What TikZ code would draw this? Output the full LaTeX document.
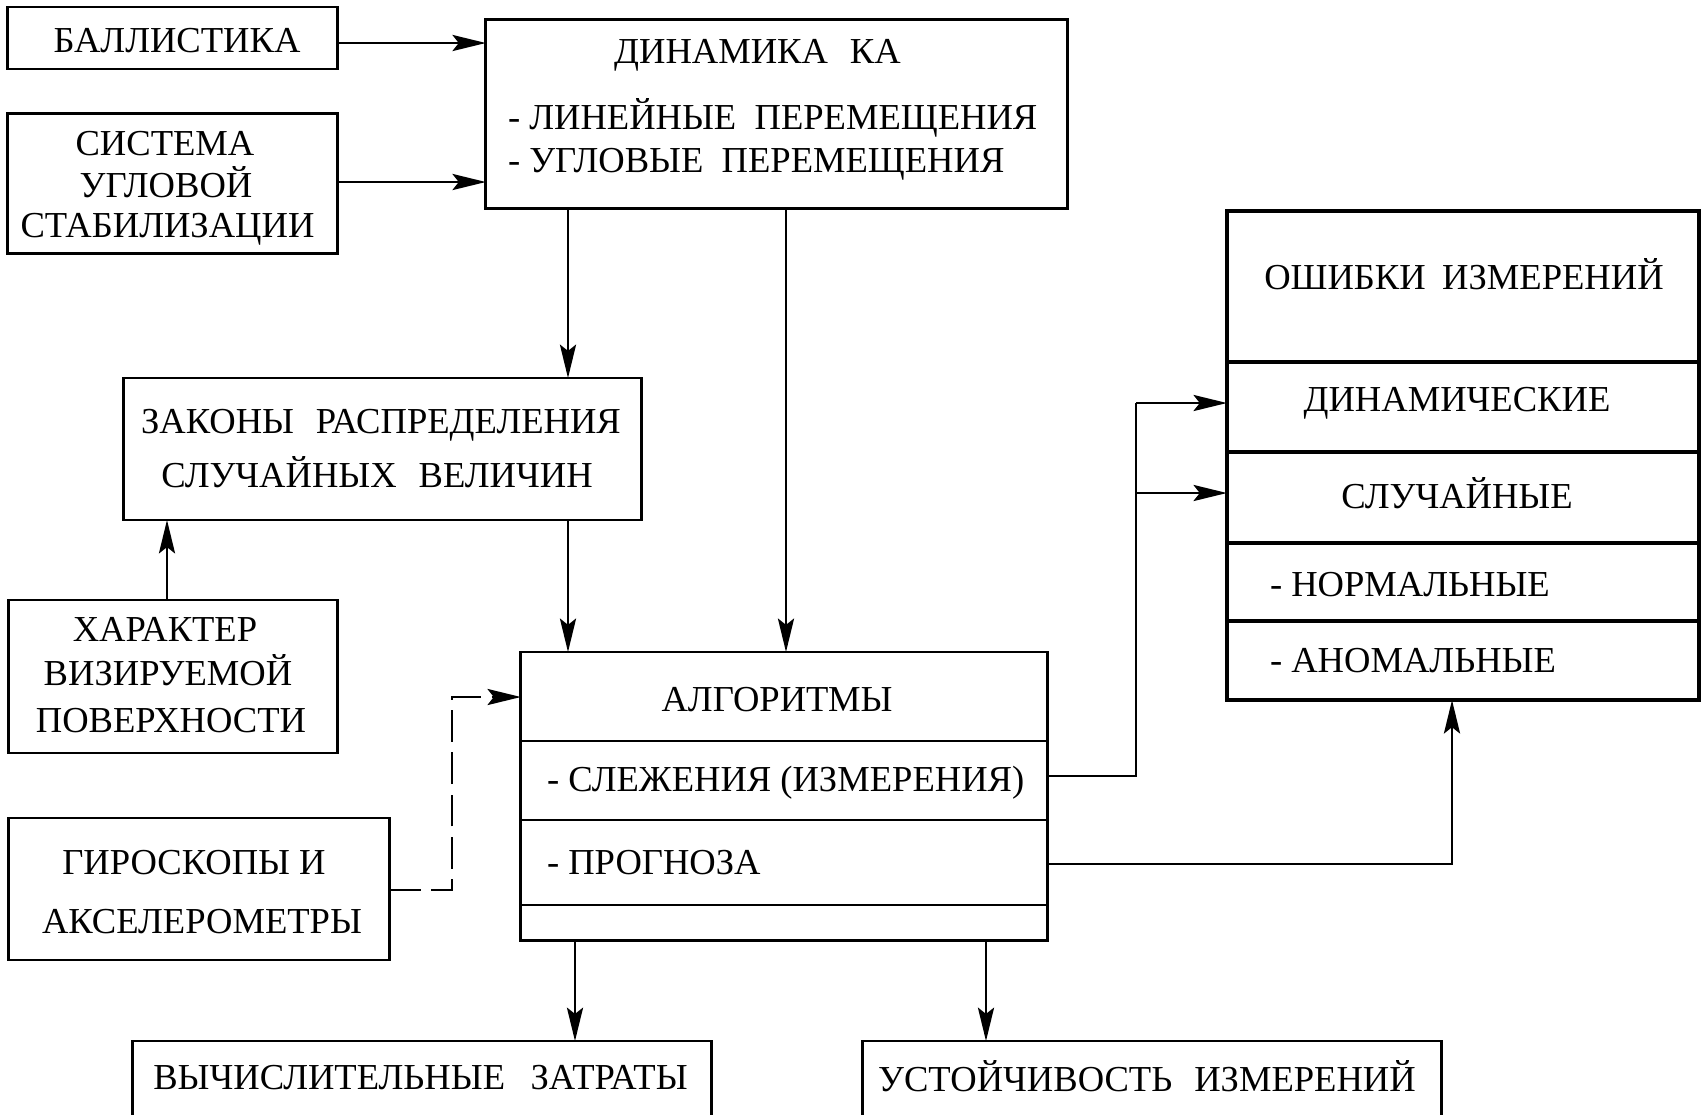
\documentclass[tikz,border=0pt]{standalone}
\usepackage{fontspec}
\setmainfont{Liberation Serif}
\usetikzlibrary{arrows.meta,calc}
\newcommand\wsp{\hspace{0.6em}}
\tikzset{
  box/.style={draw, line width=0.8pt, inner sep=0pt, outer sep=0pt},
  thickbox/.style={box, line width=1.2pt},
  lbl/.style={inner sep=0pt, outer sep=0pt, text height=6.9pt, text depth=0pt,
    font=\fontsize{10.4}{12}\selectfont},
  ln/.style={line width=0.6pt},
  arr/.style={ln, -{Stealth[length=9.5pt,width=4.6pt,inset=1.8pt]}},
  dsh/.style={arr, dash pattern=on 9pt off 3pt},
  div/.style={line width=0.8pt},
  thickdiv/.style={line width=1.2pt}
}
\begin{document}
\begin{tikzpicture}[x=0.01cm,y=-0.01cm]
\useasboundingbox (0,0) rectangle (1702,1114);
\fill[white] (0,0) rectangle (1702,1114);
\clip (0,0) rectangle (1702,1114);

% coordinates for connector lanes and dividers
\coordinate (xa) at (568,0);
\coordinate (xb) at (786,0);
\coordinate (xc) at (167,0);
\coordinate (xd) at (452,0);
\coordinate (xe) at (1136,0);
\coordinate (xf) at (1452,0);
\coordinate (xg) at (575,0);
\coordinate (xh) at (986,0);
\coordinate (ya) at (0,43);
\coordinate (yb) at (0,182);
\coordinate (yc) at (0,697);
\coordinate (yd) at (0,776);
\coordinate (ye) at (0,403);
\coordinate (yf) at (0,493);
\coordinate (yg) at (0,864);
\coordinate (yh) at (0,890);
\coordinate (d1) at (0,741);
\coordinate (d2) at (0,820);
\coordinate (d3) at (0,905);
\coordinate (e1) at (0,362);
\coordinate (e2) at (0,452);
\coordinate (e3) at (0,543);
\coordinate (e4) at (0,621);

% boxes
\node[box, minimum width=3.29cm, minimum height=0.62cm] (ball) at (172.5,38) {};
\node[lbl] (ballT) at (177,40.5) {БАЛЛИСТИКА};

\node[box, minimum width=3.29cm, minimum height=1.40cm] (sys) at (172.5,183.5) {};
\node[lbl] (sys1) at (165,143.5) {СИСТЕМА};
\node[lbl] (sys2) at (166,185) {УГЛОВОЙ};
\node[lbl] (sys3) at (167.5,225.5) {СТАБИЛИЗАЦИИ};

\node[box, minimum width=5.81cm, minimum height=1.89cm] (dyn) at (776.5,114) {};
\node[lbl] (dynT) at (757.5,51.5) {ДИНАМИКА\hspace{0.6em}КА};
\node[lbl, anchor=west] (dyn1) at (508,117.5) {- ЛИНЕЙНЫЕ\hspace{0.5em}ПЕРЕМЕЩЕНИЯ};
\node[lbl, anchor=west] (dyn2) at (508,160) {- УГЛОВЫЕ\hspace{0.5em}ПЕРЕМЕЩЕНИЯ};

\node[box, minimum width=5.17cm, minimum height=1.42cm] (zak) at (382.5,449) {};
\node[lbl] (zak1) at (381,421.5) {ЗАКОНЫ\wsp РАСПРЕДЕЛЕНИЯ};
\node[lbl] (zak2) at (377,475) {СЛУЧАЙНЫХ\wsp ВЕЛИЧИН};

\node[box, minimum width=3.28cm, minimum height=1.53cm] (har) at (173,676.5) {};
\node[lbl] (har1) at (165,629) {ХАРАКТЕР};
\node[lbl] (har2) at (168,673.5) {ВИЗИРУЕМОЙ};
\node[lbl] (har3) at (171,720) {ПОВЕРХНОСТИ};

\node[box, minimum width=3.80cm, minimum height=1.42cm] (gyr) at (199,889) {};
\node[lbl] (gyr1) at (194,862.5) {ГИРОСКОПЫ И};
\node[lbl] (gyr2) at (202,921.5) {АКСЕЛЕРОМЕТРЫ};

\node[box, minimum width=5.26cm, minimum height=2.88cm] (alg) at (784,796) {};
\draw[div] (alg.west |- d1) -- (alg.east |- d1);
\draw[div] (alg.west |- d2) -- (alg.east |- d2);
\draw[div] (alg.west |- d3) -- (alg.east |- d3);
\node[lbl] (algT) at (777,699) {АЛГОРИТМЫ};
\node[lbl, anchor=west] (algA) at (547,779) {- СЛЕЖЕНИЯ (ИЗМЕРЕНИЯ)};
\node[lbl, anchor=west] (algB) at (547,862.5) {- ПРОГНОЗА};

\node[thickbox, minimum width=4.72cm, minimum height=4.89cm] (err) at (1463,455.5) {};
\draw[thickdiv] (err.west |- e1) -- (err.east |- e1);
\draw[thickdiv] (err.west |- e2) -- (err.east |- e2);
\draw[thickdiv] (err.west |- e3) -- (err.east |- e3);
\draw[thickdiv] (err.west |- e4) -- (err.east |- e4);
\node[lbl] (errT) at (1464,277.5) {ОШИБКИ\hspace{0.45em}ИЗМЕРЕНИЙ};
\node[lbl] (errA) at (1457,399) {ДИНАМИЧЕСКИЕ};
\node[lbl] (errB) at (1457,496.5) {СЛУЧАЙНЫЕ};
\node[lbl, anchor=west] (errC) at (1270,584.5) {- НОРМАЛЬНЫЕ};
\node[lbl, anchor=west] (errD) at (1270,660) {- АНОМАЛЬНЫЕ};

\node[box, minimum width=5.78cm, minimum height=0.80cm] (comp) at (422,1081) {};
\node[lbl] (compT) at (420.5,1077.5) {ВЫЧИСЛИТЕЛЬНЫЕ\hspace{0.7em}ЗАТРАТЫ};
\node[box, minimum width=5.78cm, minimum height=0.80cm] (stab) at (1152,1081) {};
\node[lbl] (stabT) at (1147,1079) {УСТОЙЧИВОСТЬ\wsp ИЗМЕРЕНИЙ};

% connectors
\draw[arr] (ball.east |- ya) -- (dyn.west |- ya);
\draw[arr] (sys.east |- yb) -- (dyn.west |- yb);
\draw[arr] (dyn.south -| xa) -- (zak.north -| xa);
\draw[arr] (dyn.south -| xb) -- (alg.north -| xb);
\draw[arr] (zak.south -| xa) -- (alg.north -| xa);
\draw[arr] (har.north -| xc) -- (zak.south -| xc);
\draw[dsh] (gyr.east |- yh) -| (xd |- yc) -- (alg.west |- yc);
\draw[ln] (alg.east |- yd) -| (xe |- ye);
\draw[arr] (xe |- ye) -- (err.west |- ye);
\draw[arr] (xe |- yf) -- (err.west |- yf);
\draw[arr] (alg.east |- yg) -| (err.south -| xf);
\draw[arr] (alg.south -| xg) -- (comp.north -| xg);
\draw[arr] (alg.south -| xh) -- (stab.north -| xh);
\end{tikzpicture}
\end{document}
